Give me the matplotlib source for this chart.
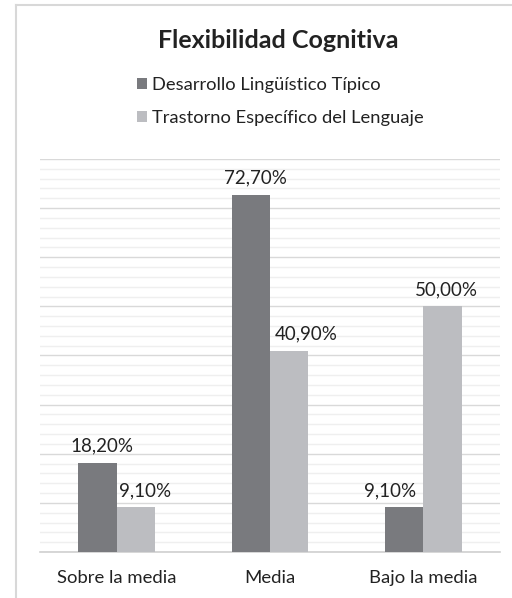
import numpy as np
import matplotlib
matplotlib.use("Agg")
import matplotlib.pyplot as plt
from matplotlib.lines import Line2D
from matplotlib.ticker import MultipleLocator

plt.rcParams["font.family"] = ["Lato", "DejaVu Sans"]

categories = ["Sobre la media", "Media", "Bajo la media"]
series_names = ["Desarrollo Lingüístico Típico", "Trastorno Específico del Lenguaje"]
dlt_values = [18.2, 72.7, 9.1]
tel_values = [9.1, 40.9, 50.0]
title = "Flexibilidad Cognitiva"

DARK = "#797a7e"
LIGHT = "#bcbdc1"
TEXT = "#222222"

# horizontal nudges (points) for the value labels, as in the original layout
dlt_nudge = [3, 3, -10]
tel_nudge = [7, 12, 3]

fig = plt.figure(figsize=(5.12, 5.98), dpi=100)
ax = fig.add_axes([40 / 512, 46 / 598, 460 / 512, 393 / 598])

x = np.arange(len(categories))
w = 0.25
b1 = ax.bar(x - w / 2, dlt_values, w, color=DARK, label=series_names[0], zorder=3)
b2 = ax.bar(x + w / 2, tel_values, w, color=LIGHT, label=series_names[1], zorder=3)

ax.set_xlim(-0.5, 2.5)
ax.set_ylim(0, 80)
ax.yaxis.set_major_locator(MultipleLocator(10))
ax.yaxis.set_minor_locator(MultipleLocator(2))
ax.grid(axis="y", which="major", color="#d9d9d9", linewidth=1.0, zorder=0)
ax.grid(axis="y", which="minor", color="#efefef", linewidth=1.0, zorder=0)
ax.tick_params(axis="y", which="both", left=False, labelleft=False)
ax.tick_params(axis="x", length=0, pad=13, labelsize=13.3, labelcolor=TEXT)
ax.set_xticks(x)
ax.set_xticklabels(categories)
for s in ["top", "right", "left"]:
    ax.spines[s].set_visible(False)
ax.spines["bottom"].set_color("#d0d0d0")
ax.spines["bottom"].set_linewidth(1.2)

def fmt(v):
    return f"{v:.2f}".replace(".", ",") + "%"

for bars, vals, nudge in [(b1, dlt_values, dlt_nudge), (b2, tel_values, tel_nudge)]:
    for bar, v, dx in zip(bars, vals, nudge):
        ax.annotate(fmt(v), (bar.get_x() + bar.get_width() / 2, v),
                    xytext=(dx, 6), textcoords="offset points",
                    ha="center", va="bottom", fontsize=13.5, color=TEXT)

fig.text(0.543, 0.933, title, ha="center", va="center",
         fontsize=18, fontweight="bold", color=TEXT)

leg = fig.legend(handles=[b1, b2], loc="upper left",
                 bbox_to_anchor=(130 / 512, 1 - 70 / 598),
                 frameon=False, fontsize=13.2, handlelength=0.55, handleheight=0.55,
                 handletextpad=0.25, labelspacing=0.9, borderaxespad=0)
for t in leg.get_texts():
    t.set_color(TEXT)

# outer frame: top and left edges only
fig.add_artist(Line2D([16 / 512, 1], [1 - 5 / 598, 1 - 5 / 598],
                      transform=fig.transFigure, color="#d8d8d8", linewidth=1.5))
fig.add_artist(Line2D([16 / 512, 16 / 512], [0, 1 - 5 / 598],
                      transform=fig.transFigure, color="#d8d8d8", linewidth=1.5))

fig.savefig("out.png", dpi=100, facecolor="white")
